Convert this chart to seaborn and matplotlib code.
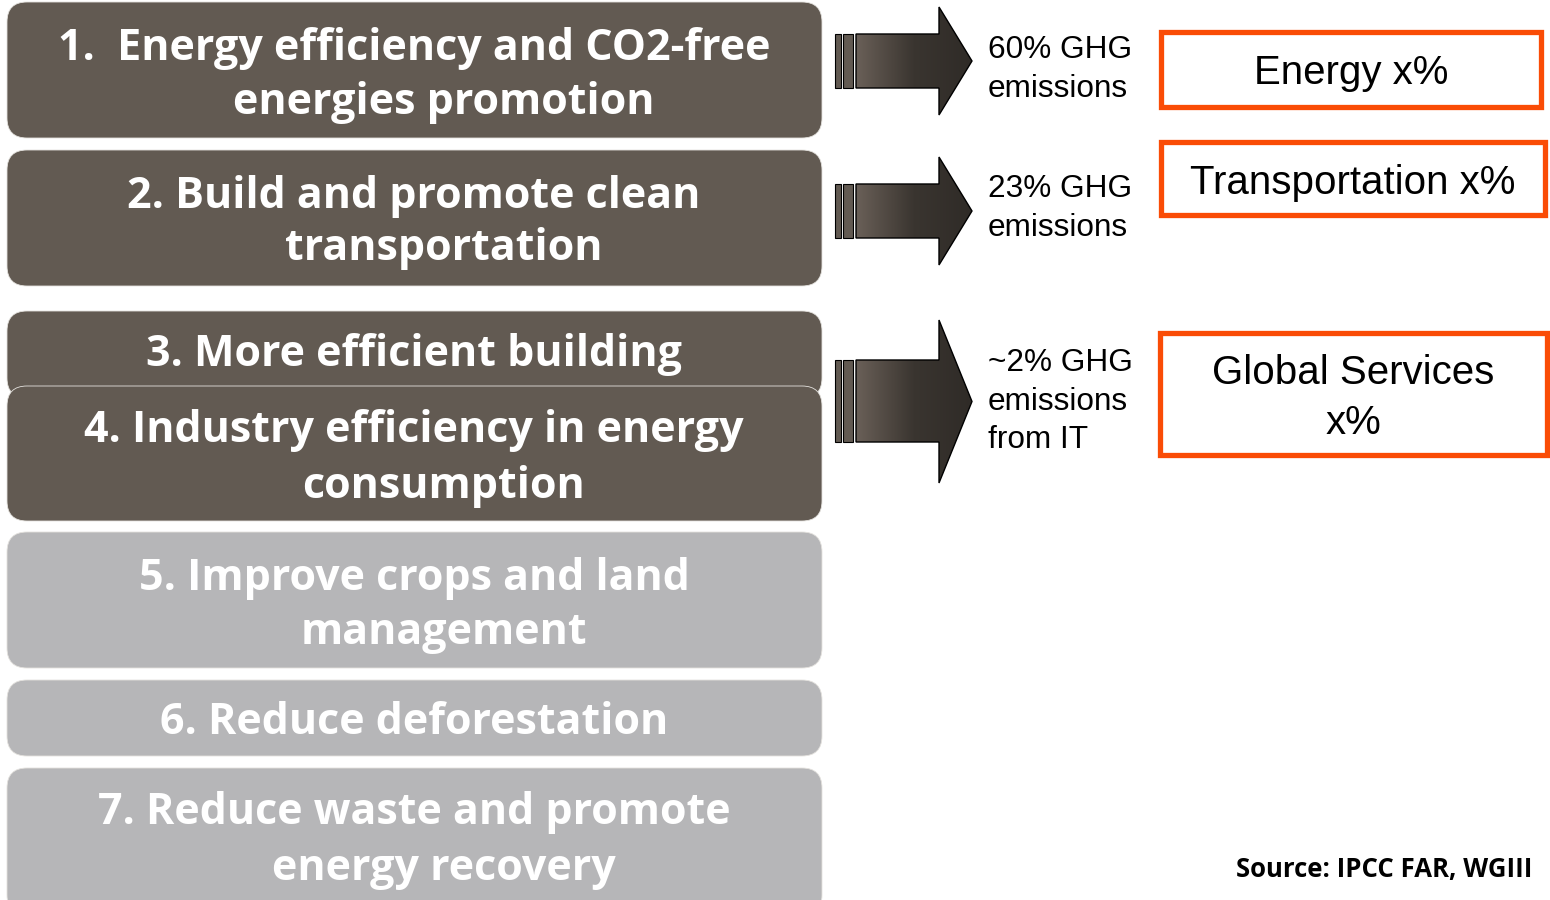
import matplotlib
matplotlib.use("Agg")
import matplotlib.pyplot as plt
import seaborn as sns
import numpy as np
from matplotlib.patches import FancyBboxPatch, Rectangle, Polygon
from matplotlib.colors import LinearSegmentedColormap

sns.set_theme(style="white")
plt.rcParams['font.family'] = ['Open Sans', 'DejaVu Sans']

# ---- content ----
actions = [
    "1.  Energy efficiency and CO2-free\nenergies promotion",
    "2. Build and promote clean\ntransportation",
    "3. More efficient building",
    "4. Industry efficiency in energy\nconsumption",
    "5. Improve crops and land\nmanagement",
    "6. Reduce deforestation",
    "7. Reduce waste and promote\nenergy recovery",
]
highlighted = [True, True, True, True, False, False, False]
ghg_labels = ["60% GHG\nemissions", "23% GHG\nemissions", "~2% GHG\nemissions\nfrom IT"]
sector_labels = ["Energy x%", "Transportation x%", "Global Services\nx%"]
source_text = "Source: IPCC FAR, WGIII"

# ---- layout (pixel space) ----
box_top = [2, 150, 311, 386, 532, 680, 768]
box_bot = [138, 286, 398, 521, 668, 756, 915]
text_y = [[48, 102], [196, 249], [354], [431, 486], [578, 632], [723], [813, 868]]
arrow_y = [(34, 88, 7, 115), (184, 238, 157, 265), (360, 442, 320, 483)]
ghg_text_y = [[50, 89], [189, 228], [363, 402, 440]]
sector_boxes = [(1161, 32, 1541, 107), (1161, 142, 1545, 215), (1160, 333, 1547, 455)]

dark = "#625a52"
light = "#b6b6b8"
orange = "#fa4c06"

fig = plt.figure(figsize=(15.5, 9), dpi=100)
ax = fig.add_axes([0, 0, 1, 1])
ax.set_xlim(0, 1550)
ax.set_ylim(900, 0)
ax.axis("off")

for i, label in enumerate(actions):
    col = dark if highlighted[i] else light
    p = FancyBboxPatch((7, box_top[i]), 815, box_bot[i] - box_top[i],
                       boxstyle="round,pad=0,rounding_size=20",
                       facecolor=col, edgecolor="#e4e2de", linewidth=0.6, zorder=2 + i)
    ax.add_patch(p)
    lines = label.split("\n")
    for k, (ln, yy) in enumerate(zip(lines, text_y[i])):
        ax.text(414 if k == 0 else 444, yy, ln, ha="center", va="center", color="white",
                fontsize=31, fontweight="bold", zorder=20)

grad_cmap = LinearSegmentedColormap.from_list("g", ["#6a6058", "#3a3530", "#2f2b27"])
grad = np.linspace(0, 1, 256).reshape(1, -1)
for (bt, bb, ht, hb), txt, tys in zip(arrow_y, ghg_labels, ghg_text_y):
    mid = (ht + hb) / 2
    ax.add_patch(Rectangle((835, bt), 6, bb - bt, facecolor=dark, edgecolor="black", lw=0.8, zorder=5))
    ax.add_patch(Rectangle((843, bt), 10, bb - bt, facecolor=dark, edgecolor="black", lw=0.8, zorder=5))
    verts = [(856, bt), (939, bt), (939, ht), (972, mid), (939, hb), (939, bb), (856, bb)]
    poly = Polygon(verts, closed=True, facecolor="none", edgecolor="black", lw=1.0, zorder=6)
    ax.add_patch(poly)
    im = ax.imshow(grad, extent=(856, 972, hb, ht), cmap=grad_cmap, aspect="auto", zorder=5)
    im.set_clip_path(poly)
    for ln, yy in zip(txt.split("\n"), tys):
        ax.text(988, yy, ln, ha="left", va="center", fontsize=22.7,
                family=["Liberation Sans", "DejaVu Sans"], color="black", zorder=10)

for (x0, y0, x1, y1), txt in zip(sector_boxes, sector_labels):
    ax.add_patch(Rectangle((x0, y0), x1 - x0, y1 - y0, facecolor="white",
                           edgecolor=orange, lw=3.8, zorder=5))
    lines = txt.split("\n")
    cy = (y0 + y1) / 2 + 4
    n = len(lines)
    for k, ln in enumerate(lines):
        ax.text((x0 + x1) / 2, cy + (k - (n - 1) / 2) * 49, ln, ha="center", va="center",
                fontsize=29, family=["Liberation Sans", "DejaVu Sans"], color="black", zorder=10)

ax.text(1532, 870, source_text, ha="right", va="center", fontsize=18.5,
        fontweight="bold", color="black")

ax.set_xlim(0, 1550)
ax.set_ylim(900, 0)
fig.savefig("out.png", dpi=100)
